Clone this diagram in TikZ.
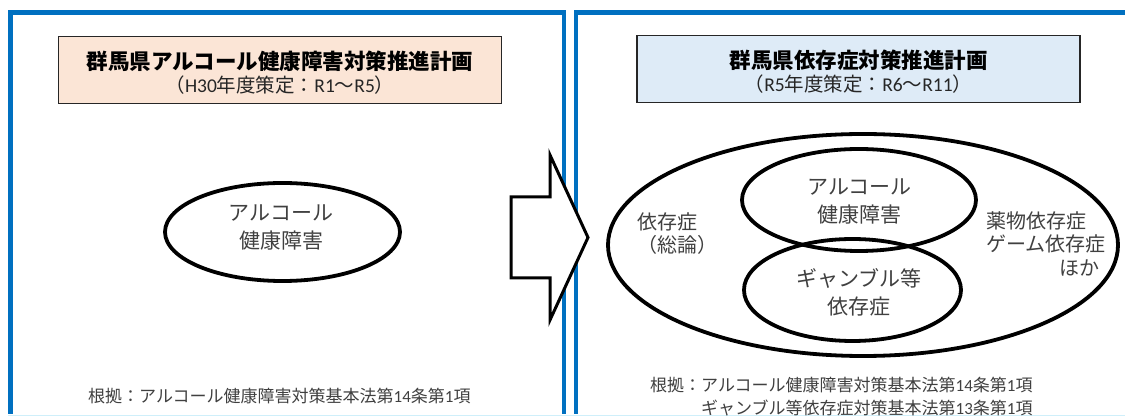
\documentclass[tikz,border=0pt]{standalone}
\usepackage{fontspec}
\setmainfont{Noto Sans CJK JP}
\newfontfamily\lat{Carlito}
\usetikzlibrary{shapes.geometric}
\definecolor{panelblue}{HTML}{0070C0}
\definecolor{peach}{HTML}{FBE5D6}
\definecolor{paleblue}{HTML}{DEEBF7}
\definecolor{txtgray}{HTML}{404040}
\definecolor{edgecyan}{HTML}{CFEFFA}
\begin{document}
\begin{tikzpicture}[x=1pt,y=-1pt,
  panel/.style={draw=panelblue,line width=4.5pt,line join=miter},
  titlebox/.style={draw=black!85,line width=1.6pt,minimum width=443pt,minimum height=67pt,inner sep=0pt},
  titletext/.style={inner sep=0pt,text=black,font=\fontsize{21.5}{24}\selectfont\bfseries},
  subtext/.style={inner sep=0pt,text=black!85,font=\fontsize{19.5}{22}\selectfont},
  ring/.style={ellipse,draw=black,line width=3.8pt,inner sep=0pt},
  ringtext/.style={inner sep=0pt,align=center,text=txtgray,font=\fontsize{21}{28}\selectfont},
  sidetext/.style={inner sep=0pt,align=left,text=txtgray,font=\fontsize{20}{23.5}\selectfont},
  basis/.style={inner sep=0pt,align=left,text=txtgray,font=\fontsize{17}{23.5}\selectfont},
  arrowshape/.style={draw=black,fill=white,line width=3pt,line join=miter}
]
\useasboundingbox (0,0) rectangle (1125,419);
\fill[white] (0,0) rectangle (1125,419);
% panels
\draw[edgecyan,line width=1.5pt] (8,415.5) -- (1125,415.5);
\draw[panel] (10.5,414) -- (10.5,12.5) -- (564,12.5) -- (564,414);
\draw[panel] (576,414) -- (576,12.5) -- (1130,12.5);
% title boxes
\node[titlebox,fill=peach] (boxL) at (280,70) {};
\node[titlebox,fill=paleblue] (boxR) at (858.5,69) {};
\node[titletext] (titleL) at (280,61) {群馬県アルコール健康障害対策推進計画};
\node[subtext] (subL) at (280,85.5) {（{\lat H30}年度策定：{\lat R1}～{\lat R5}）};
\node[titletext] (titleR) at (858.5,60) {群馬県依存症対策推進計画};
\node[subtext] (subR) at (858.5,84.5) {（{\lat R5}年度策定：{\lat R6}～{\lat R11}）};
% left ellipse
\node[ring,minimum width=235pt,minimum height=98pt] (alcL) at (282.5,232) {};
\node[ringtext] (alcLtext) at (281,228) {アルコール\\健康障害};
% right ellipses
\node[ring,minimum width=510pt,minimum height=222pt] (all) at (863,245) {};
\node[ring,minimum width=234pt,minimum height=102pt] (alcR) at (859,200) {};
\node[ring,minimum width=217pt,minimum height=102pt] (gamb) at (852.5,290) {};
\node[ringtext] (alcRtext) at (859.5,201.5) {アルコール\\健康障害};
\node[ringtext] (gambtext) at (859,292.5) {ギャンブル等\\依存症};
\node[sidetext,anchor=west] (gen) at (637,233.5) {依存症\\（総論）};
\node[sidetext,anchor=west] (other) at (986,232.5) {薬物依存症\\ゲーム依存症};
\node[sidetext,anchor=east] (etc) at (1100,268) {ほか};
% arrow
\draw[arrowshape] (511,197) -- (550,197) -- (550,155) -- (588,237.5) -- (550,320) -- (550,278) -- (511,278) -- cycle;
% basis texts
\node[basis,anchor=west] (lawL) at (88,396) {根拠：アルコール健康障害対策基本法第{\lat 14}条第{\lat 1}項};
\node[basis,anchor=west] (lawR) at (650,396.5) {根拠：アルコール健康障害対策基本法第{\lat 14}条第{\lat 1}項\\\hphantom{根拠：}ギャンブル等依存症対策基本法第{\lat 13}条第{\lat 1}項};
\end{tikzpicture}
\end{document}
